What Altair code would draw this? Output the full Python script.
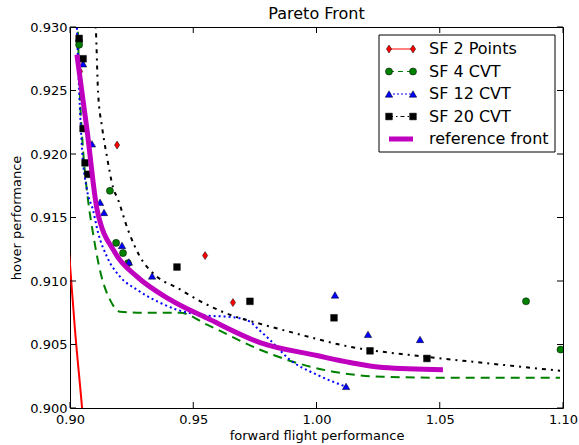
import altair as alt
import pandas as pd

# ---------------- data ----------------
series_names = ["SF 2 Points", "SF 4 CVT", "SF 12 CVT", "SF 20 CVT", "reference front"]
series_colors = ["#ff0000", "#008000", "#0000ff", "#000000", "#bf00bf"]

sf2_x = [0.9041, 0.9191, 0.9548, 0.9661]
sf2_y = [0.9265, 0.9207, 0.9120, 0.9083]

sf4_x = [0.9037, 0.9037, 0.9162, 0.9187, 0.9215, 0.9235, 1.0850, 1.0990]
sf4_y = [0.9289, 0.9286, 0.9171, 0.9130, 0.9122, 0.9114, 0.9084, 0.9046]

sf12_x = [0.9053, 0.9089, 0.9122, 0.9138, 0.9211, 0.9239, 0.9333, 1.0075, 1.0209, 1.0420, 1.0120]
sf12_y = [0.9271, 0.9208, 0.9162, 0.9154, 0.9128, 0.9115, 0.9104, 0.9089, 0.9058, 0.9054, 0.9017]

sf20_x = [0.9037, 0.9053, 0.9053, 0.9061, 0.9073, 0.9434, 0.9730, 1.0071, 1.0217, 1.0448]
sf20_y = [0.9291, 0.9275, 0.9220, 0.9193, 0.9184, 0.9111, 0.9084, 0.9071, 0.9045, 0.9039]

# fitted curves
red_cx = [0.8985, 0.9000, 0.9020, 0.9049, 0.9060]
red_cy = [0.9150, 0.9113, 0.9062, 0.9000, 0.8975]

green_cx = [0.9032, 0.9041, 0.9053, 0.9073, 0.9093, 0.9126, 0.9162, 0.9203, 0.9296, 0.9446,
            0.9556, 0.9771, 0.9905, 1.0067, 1.0270, 1.0542, 1.0988]
green_cy = [0.92963, 0.92427, 0.92033, 0.91640, 0.91380, 0.91049, 0.90853, 0.90758, 0.90750, 0.90750,
            0.90656, 0.90459, 0.90364, 0.90286, 0.90246, 0.90238, 0.90238]

blue_cx = [0.9028, 0.9037, 0.9049, 0.9069, 0.9093, 0.9114, 0.9150, 0.9203, 0.9272, 0.9365,
           0.9434, 0.9527, 0.9677, 0.9730, 0.9771, 0.9811, 0.9892, 1.0002, 1.0120]
blue_cy = [0.92994, 0.92506, 0.92033, 0.91718, 0.91561, 0.91380, 0.91191, 0.91034, 0.90931, 0.90829,
           0.90774, 0.90734, 0.90711, 0.90679, 0.90608, 0.90537, 0.90380, 0.90262, 0.90167]

black_cx = [0.9097, 0.9105, 0.9114, 0.9130, 0.9150, 0.9174, 0.9195, 0.9235, 0.9284, 0.9353,
            0.9434, 0.9540, 0.9661, 0.9742, 0.9905, 1.0136, 1.0408, 1.0675, 1.0988]
black_cy = [0.9320, 0.92979, 0.92482, 0.92214, 0.91978, 0.91742, 0.91640, 0.91404, 0.91191, 0.91034,
            0.90947, 0.90829, 0.90726, 0.90679, 0.90593, 0.90482, 0.90411, 0.90356, 0.90293]

ref_x = [0.9028, 0.9069, 0.9110, 0.9183, 0.9272, 0.9406, 0.9568, 0.9771, 1.0002, 1.0136, 1.0270, 1.0513]
ref_y = [0.92782, 0.9219, 0.91561, 0.91222, 0.91034, 0.90853, 0.90696, 0.90515, 0.90413, 0.90358, 0.90318, 0.90302]

x_ticks = [0.90, 0.95, 1.00, 1.05, 1.10]
y_ticks = [0.900, 0.905, 0.910, 0.915, 0.920, 0.925, 0.930]

# ---------------- chart ----------------
W, H = 493, 381
FONT = "DejaVu Sans"
DIAMOND = "M0,-1L0.65,0L0,1L-0.65,0Z"

xs = alt.Scale(domain=[0.90, 1.10], nice=False, zero=False)
ys = alt.Scale(domain=[0.900, 0.930], nice=False, zero=False)


def curve(cx, cy, color, dash, width):
    df = pd.DataFrame({"x": cx, "y": cy, "o": list(range(len(cx)))})
    kw = dict(color=color, strokeWidth=width, clip=True, interpolate="monotone")
    if dash:
        kw["strokeDash"] = dash
    return alt.Chart(df).mark_line(**kw).encode(
        x=alt.X("x:Q", scale=xs, axis=alt.Axis(values=x_ticks, format=".2f", title="forward flight performance")),
        y=alt.Y("y:Q", scale=ys, axis=alt.Axis(values=y_ticks, format=".3f", title="hover performance")),
        order="o:Q",
    )


def points(px, py, color, shape, size):
    df = pd.DataFrame({"x": px, "y": py})
    return alt.Chart(df).mark_point(
        shape=shape, filled=True, color=color, size=size, opacity=1,
        stroke="black", strokeWidth=0.5, clip=True,
    ).encode(x=alt.X("x:Q", scale=xs), y=alt.Y("y:Q", scale=ys))


layers = [
    curve(red_cx, red_cy, series_colors[0], None, 2),
    curve(green_cx, green_cy, series_colors[1], [9, 6], 2),
    curve(blue_cx, blue_cy, series_colors[2], [2, 3], 2),
    curve(black_cx, black_cy, series_colors[3], [4, 5, 2, 5], 2),
    points(sf2_x, sf2_y, series_colors[0], DIAMOND, 64),
    points(sf4_x, sf4_y, series_colors[1], "circle", 50),
    points(sf12_x, sf12_y, series_colors[2], "triangle-up", 55),
    points(sf20_x, sf20_y, series_colors[3], "square", 45),
    curve(ref_x, ref_y, series_colors[4], None, 5),
]

# inward ticks
xt = pd.DataFrame({"v": x_ticks})
yt = pd.DataFrame({"v": y_ticks})
layers += [
    alt.Chart(xt).mark_rule(color="black", strokeWidth=1).encode(
        x=alt.X("v:Q", scale=xs), y=alt.value(H), y2=alt.value(H - 6)),
    alt.Chart(xt).mark_rule(color="black", strokeWidth=1).encode(
        x=alt.X("v:Q", scale=xs), y=alt.value(0), y2=alt.value(6)),
    alt.Chart(yt).mark_rule(color="black", strokeWidth=1).encode(
        y=alt.Y("v:Q", scale=ys), x=alt.value(0), x2=alt.value(6)),
    alt.Chart(yt).mark_rule(color="black", strokeWidth=1).encode(
        y=alt.Y("v:Q", scale=ys), x=alt.value(W), x2=alt.value(W - 6)),
]

# legend (manual, matplotlib style)
LX0, LX1, LY0, LY1 = 309, 485, 8, 125
rows_y = [22, 44.5, 67, 89.5, 112]
layers.append(
    alt.Chart(pd.DataFrame({"a": [0]})).mark_rect(fill="white", stroke="black", strokeWidth=1).encode(
        x=alt.value(LX0), x2=alt.value(LX1), y=alt.value(LY0), y2=alt.value(LY1))
)
leg_dash = [None, [5, 4], [2, 2], [4, 3, 1.5, 3], None]
leg_width = [1, 1, 1, 1, 5]
for i in range(5):
    kw = dict(color=series_colors[i], strokeWidth=leg_width[i])
    if leg_dash[i]:
        kw["strokeDash"] = leg_dash[i]
    layers.append(
        alt.Chart(pd.DataFrame({"a": [0]})).mark_rule(**kw).encode(
            x=alt.value(319), x2=alt.value(343), y=alt.value(rows_y[i]))
    )
leg_shapes = [DIAMOND, "circle", "triangle-up", "square"]
leg_sizes = [64, 50, 55, 45]
for i in range(4):
    layers.append(
        alt.Chart(pd.DataFrame({"px": [319, 343]})).mark_point(
            shape=leg_shapes[i], filled=True, color=series_colors[i], size=leg_sizes[i], opacity=1,
            stroke="black", strokeWidth=0.5,
        ).encode(x=alt.X("px:Q", scale=None), y=alt.value(rows_y[i]))
    )
leg_df = pd.DataFrame({"label": series_names, "py": rows_y})
layers.append(
    alt.Chart(leg_df).mark_text(align="left", baseline="middle", fontSize=16, font=FONT, color="black").encode(
        x=alt.value(359), y=alt.Y("py:Q", scale=None), text="label:N")
)

chart = alt.layer(*layers).properties(
    width=W, height=H,
    title=alt.TitleParams("Pareto Front", fontSize=16, fontWeight="normal", font=FONT, anchor="middle",
                          offset=-1, color="black"),
    padding={"left": 70, "top": 27, "right": 16, "bottom": 37},
    autosize=alt.AutoSizeParams(type="none"),
).configure_view(
    stroke="black", strokeWidth=1
).configure_axis(
    grid=False, domain=False, ticks=False, labelFont=FONT, titleFont=FONT,
    labelFontSize=13, titleFontSize=13, titleFontWeight="normal", labelColor="black", titleColor="black",
    labelFlush=False, labelOverlap=False,
).configure_axisX(
    labelPadding=5, titlePadding=3
).configure_axisY(
    labelPadding=3, titlePadding=6
)

chart.save("out.html", embed_options={"renderer": "svg", "actions": False})
